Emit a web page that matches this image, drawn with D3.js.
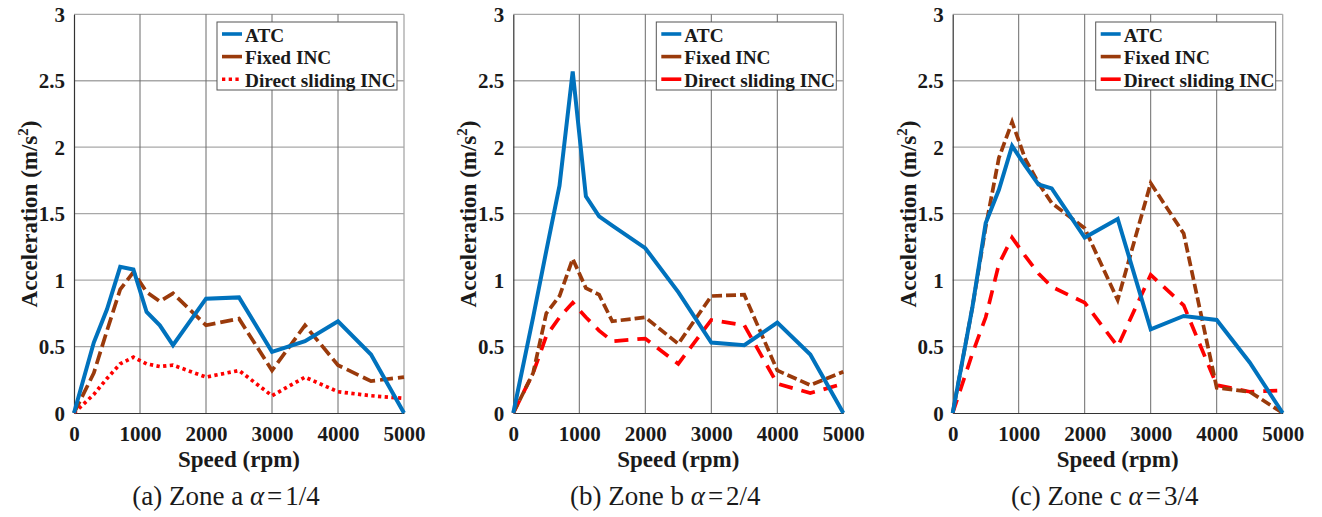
<!DOCTYPE html>
<html>
<head>
<meta charset="utf-8">
<script src="https://cdn.jsdelivr.net/npm/d3@7"></script>
<style>
  html, body { margin: 0; padding: 0; background: #fff; }
  svg { display: block; }
</style>
</head>
<body>
<svg id="chart" width="1322" height="517"></svg>
<script>
// ---------------- data ----------------
const speeds = [0, 300, 500, 700, 900, 1100, 1300, 1500, 2000, 2500, 3000, 3500, 4000, 4500, 5000];

const atcA   = [0, 0.53, 0.78, 1.10, 1.08, 0.76, 0.66, 0.51, 0.86, 0.87, 0.46, 0.54, 0.69, 0.44, 0];
const fixedA = [0, 0.30, 0.62, 0.93, 1.06, 0.91, 0.84, 0.90, 0.66, 0.71, 0.32, 0.66, 0.36, 0.24, 0.27];
const slideA = [0, 0.14, 0.26, 0.37, 0.42, 0.37, 0.35, 0.36, 0.27, 0.32, 0.13, 0.27, 0.16, 0.13, 0.11];

const atcB   = [0, 0.72, 1.22, 1.71, 2.57, 1.63, 1.48, 1.41, 1.24, 0.91, 0.53, 0.51, 0.68, 0.44, 0];
const fixedB = [0, 0.30, 0.75, 0.88, 1.16, 0.94, 0.89, 0.69, 0.72, 0.52, 0.88, 0.89, 0.32, 0.21, 0.31];
const slideB = [0, 0.30, 0.58, 0.72, 0.83, 0.72, 0.62, 0.54, 0.56, 0.37, 0.70, 0.66, 0.22, 0.15, 0.22];

const atcC   = [0, 0.80, 1.43, 1.68, 2.01, 1.86, 1.72, 1.69, 1.32, 1.46, 0.63, 0.73, 0.70, 0.38, 0];
const fixedC = [0, 0.80, 1.40, 1.92, 2.19, 1.91, 1.73, 1.58, 1.39, 0.85, 1.73, 1.35, 0.19, 0.16, 0];
const slideC = [0, 0.45, 0.72, 1.12, 1.32, 1.18, 1.05, 0.95, 0.83, 0.50, 1.04, 0.81, 0.21, 0.16, 0.17];

const xTicks = [0, 1000, 2000, 3000, 4000, 5000];
const yTicks = [0, 0.5, 1, 1.5, 2, 2.5, 3];
const seriesNames = ["ATC", "Fixed INC", "Direct sliding INC"];
const captions = [["(a) Zone a ", "1/4"], ["(b) Zone b ", "2/4"], ["(c) Zone c ", "3/4"]];

const panels = [
  { data: [atcA, fixedA, slideA], red: "dot" },
  { data: [atcB, fixedB, slideB], red: "dash" },
  { data: [atcC, fixedC, slideC], red: "dash" }
];

// ---------------- styles ----------------
const FONT = "'Liberation Serif', 'Times New Roman', serif";
const colors = ["#0072BD", "#9A3A0B", "#FF0000"];
const panelLefts = [74, 513.3, 952.7];
const plotW = 330, plotTop = 14.3, plotBottom = 413;

const svg = d3.select("#chart").style("font-family", FONT);

panels.forEach((p, pi) => {
  const left = panelLefts[pi];
  const x = d3.scaleLinear().domain([0, 5000]).range([left, left + plotW]);
  const y = d3.scaleLinear().domain([0, 3]).range([plotBottom, plotTop]);
  const g = svg.append("g");

  // grid
  g.append("g").selectAll("line").data(yTicks.filter(d => d > 0)).join("line")
    .attr("x1", left).attr("x2", left + plotW)
    .attr("y1", d => y(d)).attr("y2", d => y(d))
    .attr("stroke", "#a8a8a8").attr("stroke-width", 1.3);
  g.append("g").selectAll("line").data(xTicks.filter(d => d > 0)).join("line")
    .attr("x1", d => x(d)).attr("x2", d => x(d))
    .attr("y1", plotTop).attr("y2", plotBottom)
    .attr("stroke", d => d === 5000 ? "#a8a8a8" : "#6a6a6a").attr("stroke-width", d => d === 5000 ? 1.3 : 1);

  // axes via d3
  const xAxis = d3.axisBottom(x).tickValues(xTicks).tickSize(0).tickPadding(10).tickFormat(d3.format("d"));
  const yAxis = d3.axisLeft(y).tickValues(yTicks).tickSize(0).tickPadding(10).tickFormat(d => String(d));
  const gx = g.append("g").attr("transform", `translate(0,${plotBottom})`).call(xAxis);
  const gy = g.append("g").attr("transform", `translate(${left},0)`).call(yAxis);
  [gx, gy].forEach(a => {
    a.attr("font-family", null).attr("font-size", null);
    a.select(".domain").attr("stroke", "#333").attr("stroke-width", 1.2);
    a.selectAll("text").style("font-family", FONT).style("font-weight", "bold")
      .style("font-size", "21px").attr("fill", "#1a1a1a");
  });
  gx.selectAll("text").attr("dy", null).attr("y", 28);
  gy.selectAll("text").attr("dy", "0.34em").attr("x", -9);

  // lines
  const line = d3.line().x((d, i) => x(speeds[i])).y(d => y(d));
  const dashes = [null, pi === 0 ? "13,5" : "10,4", p.red === "dot" ? "3.3,3.4" : "14,9"];
  [2, 1, 0].forEach(si => {
    g.append("path").datum(p.data[si])
      .attr("d", line)
      .attr("fill", "none")
      .attr("stroke", colors[si])
      .attr("stroke-width", si === 0 ? 4 : 3.7)
      .attr("stroke-linejoin", "miter")
      .attr("stroke-dasharray", dashes[si]);
  });

  // legend
  const lx = left + 143, ly = 22, lw = 180, lh = 68;
  const lg = g.append("g");
  lg.append("rect").attr("x", lx).attr("y", ly).attr("width", lw).attr("height", lh)
    .attr("fill", "#fff").attr("stroke", "#555").attr("stroke-width", 1);
  seriesNames.forEach((name, si) => {
    const by = ly + 19.5 + si * 22.6;
    lg.append("line").attr("x1", lx + 5).attr("x2", lx + 25).attr("y1", by - 7.5).attr("y2", by - 7.5)
      .attr("stroke", colors[si]).attr("stroke-width", 3.6)
      .attr("stroke-dasharray", (si === 2 && p.red === "dot") ? "3.3,3.4" : null);
    lg.append("text").attr("x", lx + 28).attr("y", by)
      .style("font-family", FONT).style("font-weight", "bold").style("font-size", "19.3px")
      .attr("fill", "#1a1a1a").text(name);
  });

  // axis labels
  g.append("text").attr("x", left + plotW / 2).attr("y", 467)
    .attr("text-anchor", "middle").style("font-family", FONT).style("font-weight", "bold").style("font-size", "23px")
    .attr("fill", "#1a1a1a").text("Speed (rpm)");
  const yl = g.append("text")
    .attr("transform", `translate(${left - 37},214) rotate(-90)`)
    .attr("text-anchor", "middle").style("font-family", FONT).style("font-weight", "bold").style("font-size", "23px")
    .attr("fill", "#1a1a1a");
  yl.append("tspan").text("Acceleration (m/s");
  yl.append("tspan").style("font-size", "15px").attr("dy", -9).text("2");
  yl.append("tspan").attr("dy", 9).text(")");

  // caption
  const cap = g.append("text").attr("x", left + 152).attr("y", 505)
    .attr("text-anchor", "middle").style("font-family", FONT).style("font-size", "27px").attr("fill", "#1a1a1a");
  cap.append("tspan").text(captions[pi][0]);
  cap.append("tspan").style("font-style", "italic").text("α");
  cap.append("tspan").attr("dx", 3).text("=");
  cap.append("tspan").attr("dx", 3).text(captions[pi][1]);
});
</script>
</body>
</html>
